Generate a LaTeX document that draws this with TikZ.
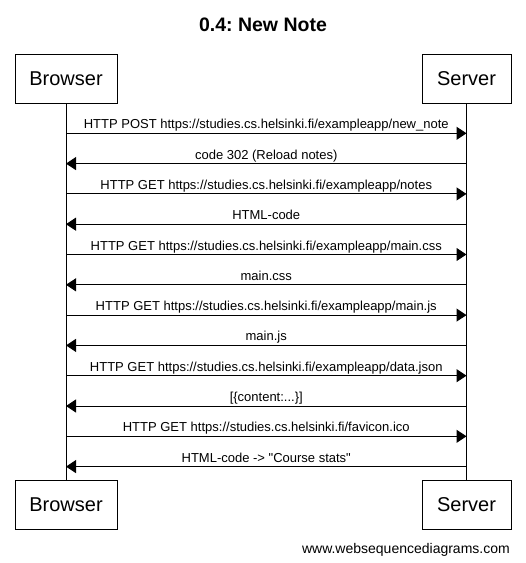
\documentclass[tikz,border=0pt]{standalone}
\usepackage{fontspec}
\setmainfont{Liberation Sans}
\frenchspacing
\usetikzlibrary{arrows.meta}
\begin{document}
\begin{tikzpicture}[x=1pt,y=-1pt,
  actor/.style={draw, line width=1pt, minimum height=49pt, inner sep=0pt, font=\fontsize{20}{24}\selectfont},
  msg/.style={line width=1pt, -{Triangle[length=10pt,width=13pt]}},
  lbl/.style={font=\fontsize{13}{15}\selectfont, anchor=base, inner sep=0pt, yshift=4.5pt},
  life/.style={line width=1pt}]
\useasboundingbox (0,0) rectangle (526,563);
\node[font=\bfseries\fontsize{19.5}{22}\selectfont, anchor=base, inner sep=0pt] (title) at (263,31) {0.4: New Note};
\node[actor, minimum width=102pt] (bt) at (66,78.5) {Browser};
\node[actor, minimum width=89pt] (st) at (466.5,78.5) {Server};
\node[actor, minimum width=102pt] (bb) at (66,504.5) {Browser};
\node[actor, minimum width=89pt] (sb) at (466.5,504.5) {Server};
\draw[life] (bt.south) -- (bb.north);
\draw[life] (st.south) -- (sb.north);
\foreach \k in {1,...,12} {
  \coordinate (b\k) at (66,{133.3+30.3*(\k-1)});
  \coordinate (s\k) at (466.5,{133.3+30.3*(\k-1)});
}
\draw[msg] (b1) -- node[lbl] (m1) {HTTP POST https://studies.cs.helsinki.fi/exampleapp/new\_note} (s1);
\draw[msg] (s2) -- node[lbl] (m2) {code 302 (Reload notes)} (b2);
\draw[msg] (b3) -- node[lbl] (m3) {HTTP GET https://studies.cs.helsinki.fi/exampleapp/notes} (s3);
\draw[msg] (s4) -- node[lbl] (m4) {HTML-code} (b4);
\draw[msg] (b5) -- node[lbl] (m5) {HTTP GET https://studies.cs.helsinki.fi/exampleapp/main.css} (s5);
\draw[msg] (s6) -- node[lbl] (m6) {main.css} (b6);
\draw[msg] (b7) -- node[lbl] (m7) {HTTP GET https://studies.cs.helsinki.fi/exampleapp/main.js} (s7);
\draw[msg] (s8) -- node[lbl] (m8) {main.js} (b8);
\draw[msg] (b9) -- node[lbl] (m9) {HTTP GET https://studies.cs.helsinki.fi/exampleapp/data.json} (s9);
\draw[msg] (s10) -- node[lbl] (m10) {[\{content:...\}]} (b10);
\draw[msg] (b11) -- node[lbl] (m11) {HTTP GET https://studies.cs.helsinki.fi/favicon.ico} (s11);
\draw[msg] (s12) -- node[lbl] (m12) {HTML-code -> \textquotedbl Course stats\textquotedbl} (b12);
\node[font=\fontsize{14}{16}\selectfont, anchor=base east, inner sep=0pt] (footer) at (510,553) {www.websequencediagrams.com};
\end{tikzpicture}
\end{document}
